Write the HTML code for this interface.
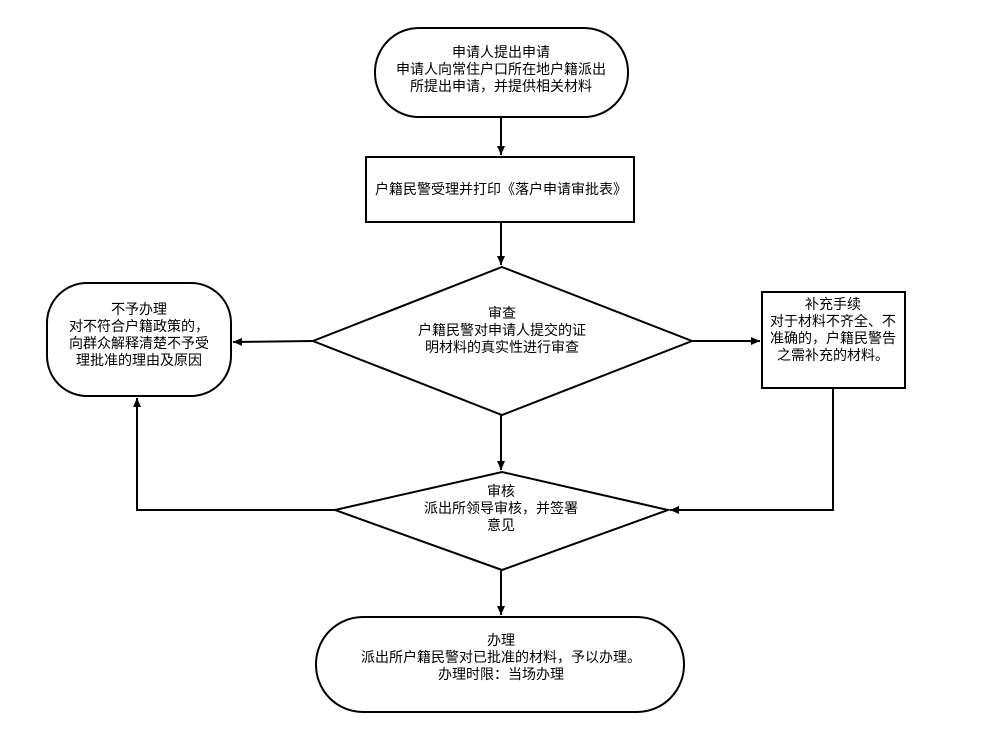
<!DOCTYPE html>
<html><head><meta charset="utf-8"><style>
html,body{margin:0;padding:0;background:#fff;width:992px;height:744px;overflow:hidden}
svg text{font-family:"Liberation Sans","Noto Sans CJK SC",sans-serif;font-size:14px;fill:#000}
</style></head><body>
<svg width="992" height="744" viewBox="0 0 992 744" xmlns="http://www.w3.org/2000/svg">
<defs><marker id="a" markerWidth="10" markerHeight="10" refX="9" refY="5" orient="auto" markerUnits="userSpaceOnUse"><path d="M0,1 L9,5 L0,9 Z" fill="#000"/></marker></defs>
<g fill="none" stroke="#000" stroke-width="2">
<rect x="375" y="28" width="253" height="89" rx="44" ry="44" fill="#fff"/>
<rect x="366" y="157" width="268" height="65" fill="#fff"/>
<polygon points="502,267 692,341 502,415 313,341" fill="#fff"/>
<rect x="47" y="283" width="184" height="113" rx="40" ry="40" fill="#fff"/>
<rect x="762" y="292" width="143" height="96" fill="#fff"/>
<polygon points="502,472 668,510 502,570 335,510" fill="#fff"/>
<rect x="316" y="617" width="368" height="95" rx="47" ry="47" fill="#fff"/>
<line x1="501" y1="117" x2="501" y2="155" marker-end="url(#a)"/>
<line x1="501" y1="222" x2="501" y2="265" marker-end="url(#a)"/>
<line x1="313" y1="341" x2="233" y2="342" marker-end="url(#a)"/>
<line x1="692" y1="341" x2="760" y2="341" marker-end="url(#a)"/>
<polyline points="833,388 833,510 670,510" marker-end="url(#a)"/>
<line x1="501" y1="415" x2="501" y2="470" marker-end="url(#a)"/>
<polyline points="335,510 137,510 137,398" marker-end="url(#a)"/>
<line x1="501" y1="570" x2="501" y2="615" marker-end="url(#a)"/>
</g>
<g text-anchor="middle">
<text x="501" y="57">申请人提出申请</text>
<text x="501" y="74">申请人向常住户口所在地户籍派出</text>
<text x="501" y="91">所提出申请，并提供相关材料</text>
<text x="501" y="194">户籍民警受理并打印《落户申请审批表》</text>
<text x="502" y="318">审查</text>
<text x="502" y="335">户籍民警对申请人提交的证</text>
<text x="502" y="352">明材料的真实性进行审查</text>
<text x="139" y="314">不予办理</text>
<text x="139" y="331">对不符合户籍政策的，</text>
<text x="139" y="348">向群众解释清楚不予受</text>
<text x="139" y="365">理批准的理由及原因</text>
<text x="833" y="309">补充手续</text>
<text x="833" y="326">对于材料不齐全、不</text>
<text x="833" y="343">准确的，户籍民警告</text>
<text x="833" y="360">之需补充的材料。</text>
<text x="501" y="496">审核</text>
<text x="501" y="513">派出所领导审核，并签署</text>
<text x="501" y="530">意见</text>
<text x="501" y="645">办理</text>
<text x="501" y="662">派出所户籍民警对已批准的材料，予以办理。</text>
<text x="501" y="679">办理时限：当场办理</text>
</g>
</svg>
</body></html>
